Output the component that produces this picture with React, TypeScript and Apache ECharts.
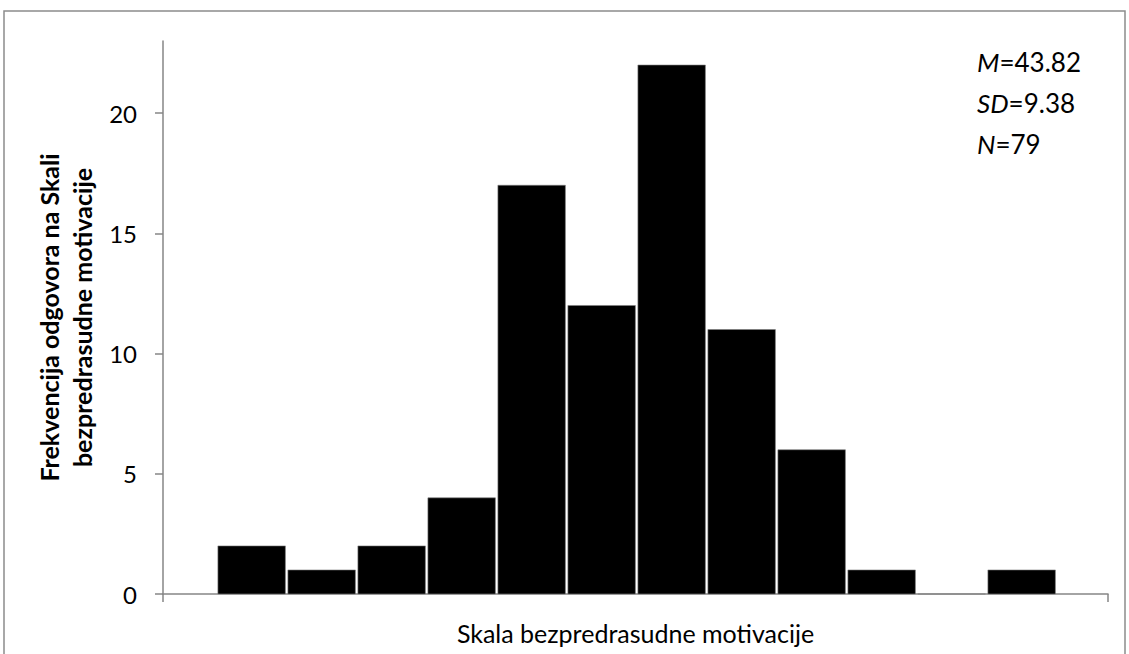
import React, { useEffect, useRef } from "react";
import * as echarts from "echarts";

const binStarts: number[] = [0.77, 1.77, 2.77, 3.77, 4.77, 5.77, 6.77, 7.77, 8.77, 9.77, 10.77, 11.77];
const frequencies: number[] = [2, 1, 2, 4, 17, 12, 22, 11, 6, 1, 0, 1];
const yTicks: number[] = [0, 5, 10, 15, 20];
const statsLines: { label: string; value: string }[] = [
  { label: "M", value: "=43.82" },
  { label: "SD", value: "=9.38" },
  { label: "N", value: "=79" },
];

const FONT = "Lato, 'Open Sans', sans-serif";
const FS = 24;

export default function App() {
  const ref = useRef<HTMLDivElement>(null);
  useEffect(() => {
    if (!ref.current) return;
    const chart = echarts.init(ref.current, undefined, { renderer: "svg" });
    const data = binStarts.map((s, i) => [s, s + 1, frequencies[i]]);
    chart.setOption({
      animation: false,
      backgroundColor: "#ffffff",
      grid: { left: 163, right: 21, top: 41, bottom: 60, containLabel: false },
      xAxis: {
        type: "value",
        min: 0,
        max: 13.5,
        name: "Skala bezpredrasudne motivacije",
        nameLocation: "middle",
        nameGap: 26,
        nameTextStyle: { fontFamily: FONT, fontSize: 25, color: "#000", lineHeight: 25 },
        axisLine: { show: true, lineStyle: { color: "#868686", width: 1.5 } },
        axisTick: { show: true, customValues: [0, 13.5], length: 8, lineStyle: { color: "#868686", width: 1.5 } },
        axisLabel: { show: false },
        splitLine: { show: false },
      },
      yAxis: {
        type: "value",
        min: 0,
        max: 23,
        interval: 5,
        name: "Frekvencija odgovora na Skali\nbezpredrasudne motivacije",
        nameLocation: "middle",
        nameGap: 55,
        nameTextStyle: { fontFamily: FONT, fontSize: 25, fontWeight: "bold", color: "#000", lineHeight: 33 },
        axisLine: { show: true, lineStyle: { color: "#868686", width: 1.5 } },
        axisTick: { show: true, customValues: yTicks, length: 8, lineStyle: { color: "#868686", width: 1.5 } },
        axisLabel: {
          customValues: yTicks,
          margin: 26,
          fontFamily: FONT,
          fontSize: FS,
          color: "#000",
        },
        splitLine: { show: false },
      },
      series: [
        {
          type: "custom",
          data,
          renderItem: (params: any, api: any) => {
            const x0 = api.value(0);
            const x1 = api.value(1);
            const y = api.value(2);
            const p0 = api.coord([x0, 0]);
            const p1 = api.coord([x1, y]);
            return {
              type: "rect",
              shape: { x: p0[0] + 1, y: p1[1], width: p1[0] - p0[0] - 2.5, height: p0[1] - p1[1] },
              style: { fill: "#000000", stroke: "#7f7f7f", lineWidth: 0.6 },
            };
          },
          encode: { x: [0, 1], y: 2 },
        },
      ],
      graphic: [
        {
          type: "rect",
          shape: { x: 4, y: 11, width: 1121, height: 700 },
          style: { fill: "none", stroke: "#8c8c8c", lineWidth: 1.5 },
          silent: true,
          z: -1,
        },
        ...statsLines.map((s, i) => ({
          type: "text",
          left: 977,
          top: 49 + i * 41,
          style: {
            text: `{i|${s.label}}{n|${s.value}}`,
            fontFamily: FONT,
            fontSize: 26,
            fill: "#000",
            rich: {
              i: { fontFamily: FONT, fontSize: 26, fontStyle: "italic", fill: "#000" },
              n: { fontFamily: FONT, fontSize: 26, fill: "#000" },
            },
          },
        })),
      ],
    });
    return () => chart.dispose();
  }, []);
  return <div ref={ref} style={{ position: "absolute", left: 0, top: 0, width: 1129, height: 654 }} />;
}
